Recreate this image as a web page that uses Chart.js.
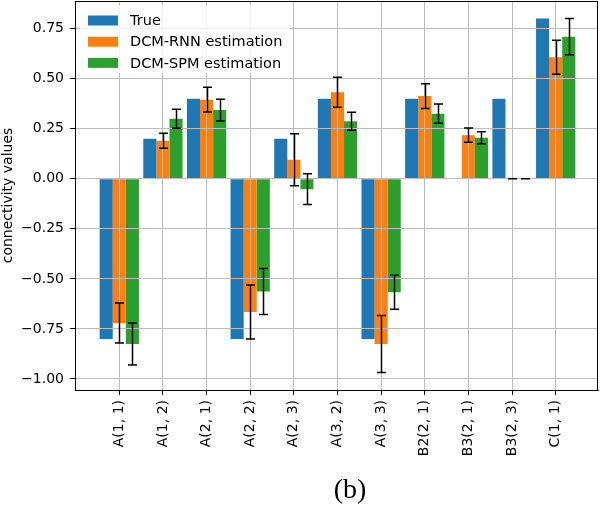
<!DOCTYPE html>
<html>
<head>
<meta charset="utf-8">
<script src="https://cdn.jsdelivr.net/npm/chart.js@4.4.1/dist/chart.umd.min.js"></script>
<style>
  body { margin: 0; background: #fff; }
  #wrap { position: relative; width: 600px; height: 506px; }
  #caption {
    position: absolute; top: 475px; left: 100px; width: 500px;
    text-align: center; font: 28px "Liberation Serif", serif; line-height: 28px; color: #000;
  }
</style>
</head>
<body>
<div id="wrap">
  <canvas id="chart" width="600" height="506"></canvas>
  <div id="caption">(b)</div>
</div>
<script>
// Data
const categories = ['A(1, 1)', 'A(1, 2)', 'A(2, 1)', 'A(2, 2)', 'A(2, 3)', 'A(3, 2)', 'A(3, 3)', 'B2(2, 1)', 'B3(2, 1)', 'B3(2, 3)', 'C(1, 1)'];
const seriesNames = ['True', 'DCM-RNN estimation', 'DCM-SPM estimation'];
const trueValues = [-0.8, 0.2, 0.4, -0.8, 0.2, 0.4, -0.8, 0.4, 0, 0.4, 0.8];
const rnnValues = [-0.72, 0.19, 0.395, -0.665, 0.095, 0.432, -0.825, 0.413, 0.218, 0, 0.607];
const rnnErrors = [0.10, 0.038, 0.062, 0.135, 0.13, 0.075, 0.142, 0.062, 0.036, 0, 0.085];
const spmValues = [-0.825, 0.30, 0.343, -0.563, -0.052, 0.287, -0.567, 0.325, 0.205, 0, 0.71];
const spmErrors = [0.105, 0.047, 0.054, 0.115, 0.077, 0.045, 0.085, 0.048, 0.03, 0, 0.09];
const yTicks = [-1.0, -0.75, -0.5, -0.25, 0, 0.25, 0.5, 0.75];

const colors = ['#1f77b4', '#ff7f0e', '#2ca02c'];
const errors = [null, rnnErrors, spmErrors];
const FONT = '"DejaVu Sans", sans-serif';

function toPoints(vals) {
  return vals.map((v, i) => ({ x: i, y: v }));
}

// keep the plot box fixed, no label overhang padding
function fixBox(s, w, h) {
  if (w) s.width = w;
  if (h) s.height = h;
  s.paddingTop = 0; s.paddingBottom = 0;
  s.paddingLeft = 0; s.paddingRight = 0;
}

// error bars, top/right spines and the in-plot legend
const extras = {
  id: 'extras',
  afterDraw(chart) {
    const ctx = chart.ctx;
    const yScale = chart.scales.y;
    const area = chart.chartArea;

    ctx.save();
    ctx.beginPath();
    ctx.rect(area.left, area.top, area.right - area.left, area.bottom - area.top);
    ctx.clip();
    ctx.strokeStyle = '#000';
    ctx.lineWidth = 1.5;
    errors.forEach((errs, d) => {
      if (!errs) return;
      const meta = chart.getDatasetMeta(d);
      const vals = chart.data.datasets[d].data;
      meta.data.forEach((bar, i) => {
        const x = Math.round(bar.x) + 0.5;
        const top = yScale.getPixelForValue(vals[i].y + errs[i]);
        const bot = yScale.getPixelForValue(vals[i].y - errs[i]);
        ctx.beginPath();
        ctx.moveTo(x, top); ctx.lineTo(x, bot);
        ctx.moveTo(x - 4.5, top); ctx.lineTo(x + 4.5, top);
        ctx.moveTo(x - 4.5, bot); ctx.lineTo(x + 4.5, bot);
        ctx.stroke();
      });
    });
    ctx.restore();

    // frame
    ctx.save();
    ctx.strokeStyle = '#000';
    ctx.lineWidth = 1;
    ctx.strokeRect(area.left + 0.5, area.top + 0.5, area.right - area.left - 1, area.bottom - area.top);
    ctx.restore();

    // legend box, upper left
    ctx.save();
    const lx = area.left + 5, ly = area.top + 4;
    ctx.fillStyle = 'rgba(255,255,255,0.8)';
    ctx.beginPath();
    ctx.roundRect(lx, ly, 210, 68, 3);
    ctx.fill();
    ctx.font = '14.5px ' + FONT;
    ctx.textBaseline = 'middle';
    seriesNames.forEach((name, k) => {
      const cy = ly + 15.5 + k * 21.2;
      ctx.fillStyle = colors[k];
      ctx.fillRect(lx + 8, cy - 5, 30, 10);
      ctx.fillStyle = '#000';
      ctx.fillText(name, lx + 50, cy + 1);
    });
    ctx.restore();
  }
};

new Chart(document.getElementById('chart'), {
  type: 'bar',
  data: {
    datasets: [
      { label: seriesNames[0], data: toPoints(trueValues), backgroundColor: colors[0] },
      { label: seriesNames[1], data: toPoints(rnnValues), backgroundColor: colors[1] },
      { label: seriesNames[2], data: toPoints(spmValues), backgroundColor: colors[2] }
    ]
  },
  options: {
    responsive: false,
    animation: false,
    devicePixelRatio: 1,
    layout: { padding: { top: 1, right: 2, bottom: 36, left: 0 } },
    datasets: { bar: { categoryPercentage: 0.9, barPercentage: 1.0, borderWidth: 0 } },
    plugins: {
      legend: { display: false },
      tooltip: { enabled: false }
    },
    scales: {
      x: {
        type: 'linear',
        min: -1.015,
        max: 10.97,
        offset: false,
        afterBuildTicks: s => { s.ticks = categories.map((c, i) => ({ value: i })); },
        afterFit: s => fixBox(s, 0, 80),
        ticks: {
          autoSkip: false,
          minRotation: 90,
          maxRotation: 90,
          padding: 5,
          color: '#000',
          font: { family: FONT, size: 14 },
          callback: v => categories[v]
        },
        grid: { offset: false, color: '#bdbdbd', lineWidth: 1, tickColor: '#000', tickLength: 5, z: 1 },
        border: { color: '#000', width: 1, z: 1 }
      },
      y: {
        min: -1.055,
        max: 0.888,
        afterBuildTicks: s => { s.ticks = yTicks.map(v => ({ value: v })); },
        afterFit: s => fixBox(s, 75, 0),
        title: {
          display: true,
          text: 'connectivity values',
          color: '#000',
          padding: 0,
          font: { family: FONT, size: 14 }
        },
        ticks: {
          padding: 6,
          color: '#000',
          font: { family: FONT, size: 14 },
          callback: v => v.toFixed(2).replace('-', '\u2212')
        },
        grid: { color: '#bdbdbd', lineWidth: 1, tickColor: '#000', tickLength: 5, z: 1 },
        border: { color: '#000', width: 1, z: 1 }
      }
    }
  },
  plugins: [extras]
});
</script>
</body>
</html>
